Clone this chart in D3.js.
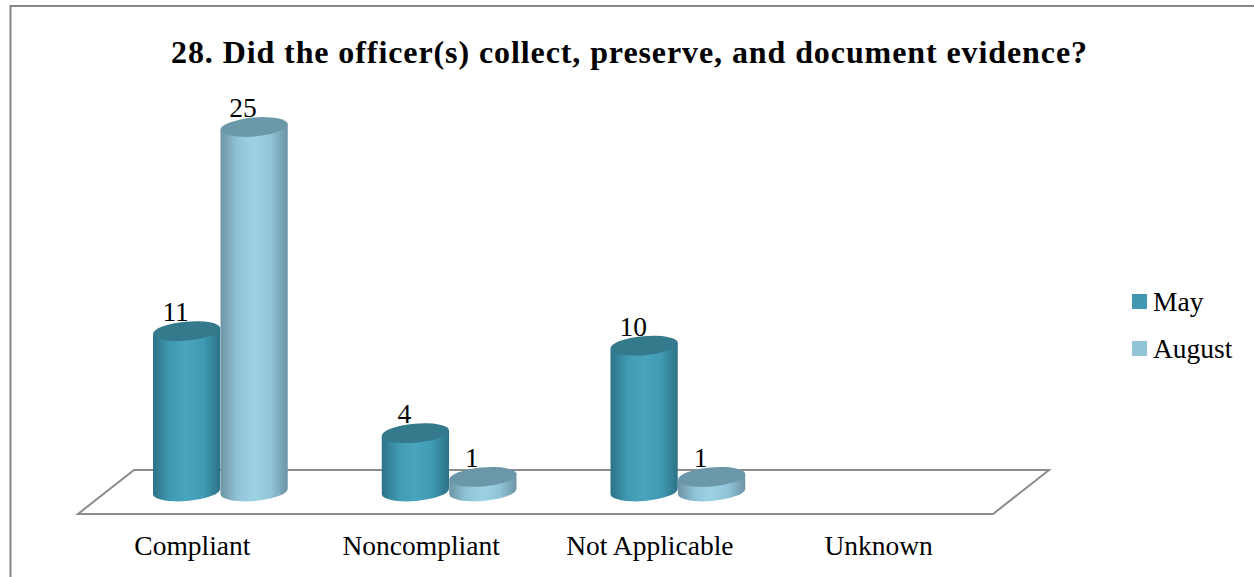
<!DOCTYPE html>
<html>
<head>
<meta charset="utf-8">
<script src="https://cdn.jsdelivr.net/npm/d3@7"></script>
<style>
  body { margin: 0; background: #fff; overflow: hidden; }
  svg { display: block; }
  text { font-family: "Liberation Serif", serif; fill: #000; }
</style>
</head>
<body>
<div id="container"></div>
<script>
/**
 * DATA
 * */
const title = '28. Did the officer(s) collect, preserve, and document evidence?'
const categories = ['Compliant', 'Noncompliant', 'Not Applicable', 'Unknown']
const seriesNames = ['May', 'August']
const mayValues = [11, 4, 10, null]
const augustValues = [25, 1, 1, null]

/**
 * CONSTANTS
 * */
const width = 1254,
  height = 577,
  floor = { left: 78, right: 993, front: 514, back: 470, depth: 56 },
  depthShift = 28, // bars stand in the middle of the floor, not on its front edge
  tilt = -5,       // cap ellipses lean up to the right
  ry = 9.5,
  labelSize = 27.5

const colors = {
  May: { edge: '#2c7286', soft: '#409ab3', mid: '#48a5bd', cap: '#35798d', legend: '#4198b2' },
  August: { edge: '#6d94a5', soft: '#90c3d7', mid: '#9dd2e5', cap: '#6b98a9', legend: '#93c3d6' }
}

const svg = d3.select('#container')
  .append('svg')
  .attr('width', width)
  .attr('height', height)

// gradients for the cylinder sides
const defs = svg.append('defs')
seriesNames.forEach(name => {
  const g = defs.append('linearGradient').attr('id', 'side-' + name)
  g.append('stop').attr('offset', '0%').attr('stop-color', colors[name].edge)
  g.append('stop').attr('offset', '25%').attr('stop-color', colors[name].soft)
  g.append('stop').attr('offset', '50%').attr('stop-color', colors[name].mid)
  g.append('stop').attr('offset', '75%').attr('stop-color', colors[name].soft)
  g.append('stop').attr('offset', '100%').attr('stop-color', colors[name].edge)
})

// chart border, only top and left show in the crop
svg.append('path')
  .attr('d', `M10.5,${height} V6 H${width}`)
  .attr('fill', 'none')
  .attr('stroke', '#868686')
  .attr('stroke-width', 2)

svg.append('text')
  .attr('x', 629)
  .attr('y', 63)
  .attr('text-anchor', 'middle')
  .attr('font-size', 32)
  .attr('font-weight', 'bold')
  .attr('textLength', 916)
  .attr('lengthAdjust', 'spacing')
  .text(title)

/**
 * SCALES
 * */
const x = d3.scaleBand()
  .domain(categories)
  .range([floor.left, floor.right])
  .paddingInner(0.41)
  .paddingOuter(0.205)

const xSeries = d3.scaleBand()
  .domain(seriesNames)
  .range([0, x.bandwidth()])

const y = d3.scaleLinear()
  .domain([0, 25])
  .range([491.5, 127])

// floor plane
svg.append('path')
  .attr('d', `M${floor.left},${floor.front} H${floor.right} L${floor.right + floor.depth},${floor.back} H${floor.left + floor.depth} Z`)
  .attr('fill', 'none')
  .attr('stroke', '#8c8c8c')
  .attr('stroke-width', 2)

// category labels sit under the floor's front edge
svg.append('g')
  .selectAll('text')
  .data(categories)
  .join('text')
  .attr('x', d => x(d) + x.bandwidth() / 2)
  .attr('y', 555)
  .attr('text-anchor', 'middle')
  .attr('font-size', labelSize)
  .text(d => d)

/**
 * BARS
 * */
const bars = []
categories.forEach((c, i) => {
  bars.push({ category: c, series: 'May', value: mayValues[i] })
  bars.push({ category: c, series: 'August', value: augustValues[i] })
})
const shown = bars.filter(d => d.value !== null)

const rx = xSeries.bandwidth() / 2
const rad = tilt * Math.PI / 180
const dx = rx * Math.cos(rad), dy = rx * Math.sin(rad)
const centerX = d => x(d.category) + xSeries(d.series) + rx + depthShift

function side(d) {
  const cx = centerX(d), top = y(d.value), bottom = y(0)
  return `M${cx - dx},${top - dy} L${cx - dx},${bottom - dy}` +
    ` A${rx},${ry} ${tilt} 0 0 ${cx + dx},${bottom + dy}` +
    ` L${cx + dx},${top + dy} Z`
}

const bar = svg.append('g')
  .selectAll('g')
  .data(shown)
  .join('g')

bar.append('path')
  .attr('d', side)
  .attr('fill', d => `url(#side-${d.series})`)

bar.append('ellipse')
  .attr('rx', rx)
  .attr('ry', ry)
  .attr('transform', d => `translate(${centerX(d)},${y(d.value)}) rotate(${tilt})`)
  .attr('fill', d => colors[d.series].cap)

bar.append('text')
  .attr('x', d => centerX(d) - 11)
  .attr('y', d => y(d.value) - 10)
  .attr('text-anchor', 'middle')
  .attr('font-size', labelSize)
  .text(d => d.value)

/**
 * LEGEND
 * */
const legend = d3.scalePoint()
  .domain(seriesNames)
  .range([302, 349])

const item = svg.append('g')
  .selectAll('g')
  .data(seriesNames)
  .join('g')
  .attr('transform', d => `translate(1132,${legend(d)})`)

item.append('rect')
  .attr('y', -8)
  .attr('width', 15)
  .attr('height', 15)
  .attr('fill', d => colors[d].legend)

item.append('text')
  .attr('x', 21)
  .attr('y', 9)
  .attr('font-size', labelSize)
  .text(d => d)
</script>
</body>
</html>
